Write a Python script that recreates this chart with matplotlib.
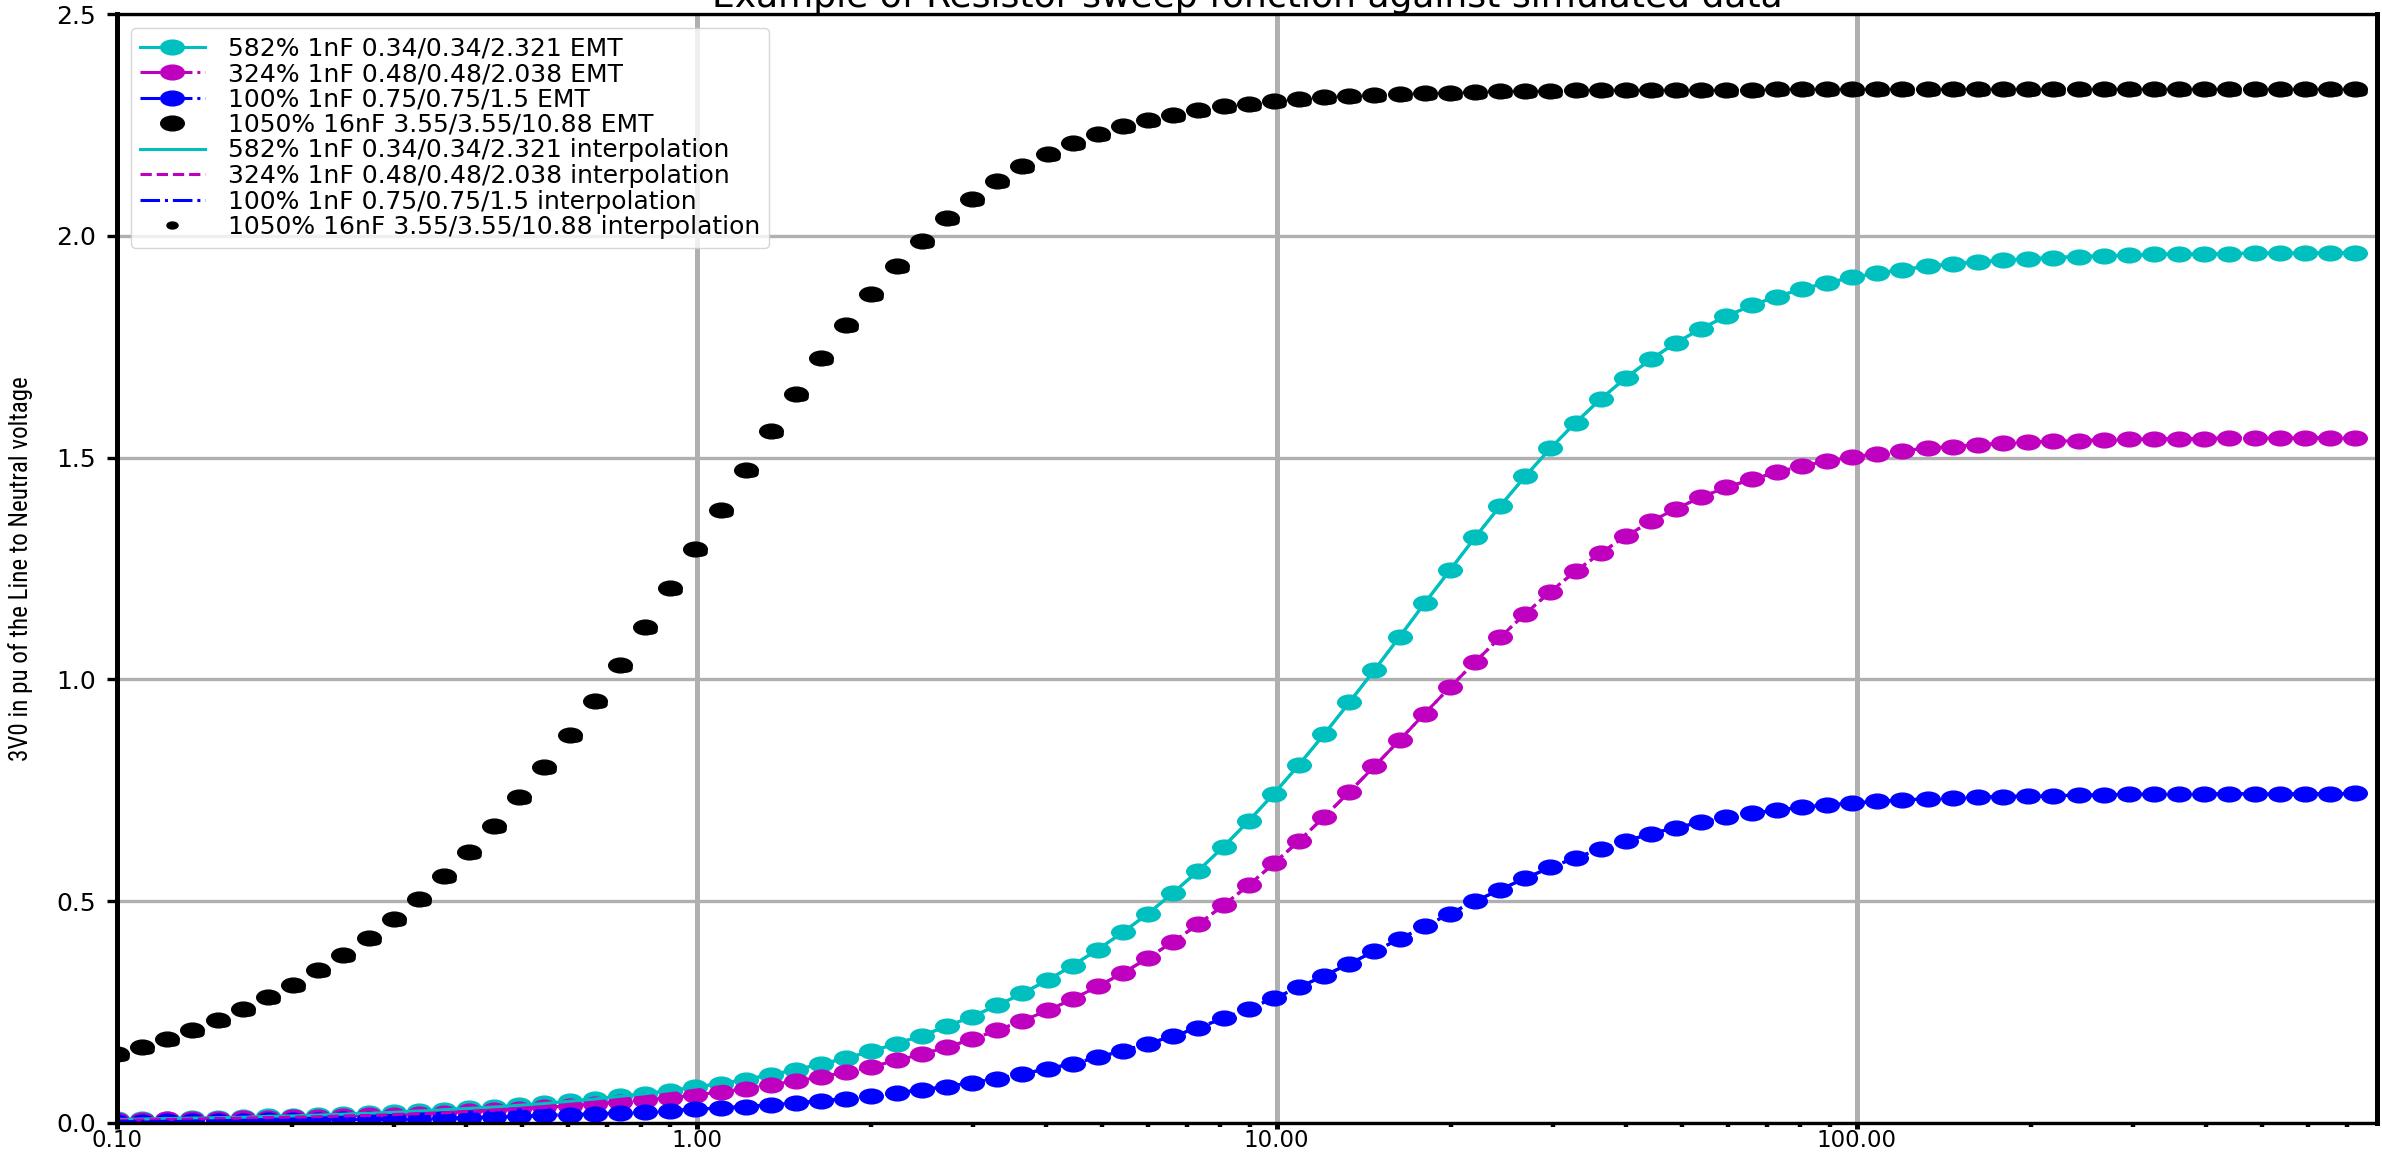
import matplotlib
matplotlib.use('Agg')
import matplotlib.pyplot as plt
from matplotlib.path import Path
from matplotlib.transforms import Affine2D, offset_copy
from matplotlib.ticker import FormatStrFormatter, NullFormatter

# Resistor values of the sweep
resistance = [0.1, 0.1105, 0.1221, 0.1349, 0.1491, 0.1648, 0.1821, 0.2012, 0.2223, 0.2457,
              0.2715, 0.3, 0.3315, 0.3663, 0.4048, 0.4473, 0.4942, 0.5461, 0.6035, 0.6669,
              0.7369, 0.8143, 0.8998, 0.9943, 1.099, 1.214, 1.342, 1.483, 1.638, 1.81,
              2, 2.211, 2.443, 2.699, 2.983, 3.296, 3.642, 4.025, 4.447, 4.914,
              5.43, 6.001, 6.631, 7.327, 8.097, 8.947, 9.887, 10.93, 12.07, 13.34,
              14.74, 16.29, 18, 19.89, 21.98, 24.29, 26.84, 29.66, 32.77, 36.21,
              40.02, 44.22, 48.86, 54, 59.67, 65.93, 72.86, 80.51, 88.96, 98.31,
              108.6, 120, 132.6, 146.6, 162, 179, 197.8, 218.5, 241.5, 266.9,
              294.9, 325.9, 360.1, 397.9, 439.7, 485.9, 536.9, 593.3, 655.6, 724.4]

# 3V0 (pu) for each case
v_582 = [0.008, 0.009, 0.010, 0.011, 0.012, 0.013, 0.015, 0.016, 0.018, 0.020,
         0.022, 0.024, 0.027, 0.030, 0.033, 0.036, 0.040, 0.044, 0.049, 0.054,
         0.060, 0.066, 0.073, 0.081, 0.089, 0.098, 0.109, 0.120, 0.133, 0.146,
         0.162, 0.179, 0.197, 0.218, 0.240, 0.265, 0.292, 0.322, 0.355, 0.391,
         0.430, 0.472, 0.519, 0.569, 0.623, 0.681, 0.742, 0.808, 0.876, 0.948,
         1.021, 1.096, 1.172, 1.246, 1.320, 1.391, 1.458, 1.521, 1.579, 1.632,
         1.680, 1.722, 1.759, 1.791, 1.819, 1.843, 1.863, 1.880, 1.894, 1.906,
         1.916, 1.924, 1.931, 1.937, 1.941, 1.945, 1.948, 1.951, 1.953, 1.955,
         1.956, 1.958, 1.959, 1.959, 1.960, 1.961, 1.961, 1.961, 1.962, 1.962]

v_324 = [0.006, 0.007, 0.008, 0.009, 0.010, 0.011, 0.012, 0.013, 0.014, 0.016,
         0.017, 0.019, 0.021, 0.023, 0.026, 0.029, 0.032, 0.035, 0.039, 0.043,
         0.047, 0.052, 0.057, 0.063, 0.070, 0.077, 0.086, 0.095, 0.104, 0.115,
         0.127, 0.141, 0.155, 0.171, 0.189, 0.209, 0.230, 0.254, 0.279, 0.308,
         0.338, 0.372, 0.409, 0.448, 0.491, 0.536, 0.585, 0.636, 0.690, 0.746,
         0.804, 0.863, 0.923, 0.982, 1.039, 1.095, 1.148, 1.198, 1.244, 1.285,
         1.323, 1.356, 1.385, 1.411, 1.433, 1.451, 1.467, 1.481, 1.492, 1.501,
         1.509, 1.516, 1.521, 1.525, 1.529, 1.532, 1.535, 1.537, 1.538, 1.540,
         1.541, 1.542, 1.543, 1.543, 1.544, 1.544, 1.544, 1.545, 1.545, 1.545]

v_100 = [0.003, 0.003, 0.004, 0.004, 0.005, 0.005, 0.006, 0.006, 0.007, 0.008,
         0.008, 0.009, 0.010, 0.011, 0.012, 0.014, 0.015, 0.017, 0.019, 0.020,
         0.023, 0.025, 0.028, 0.031, 0.034, 0.037, 0.041, 0.045, 0.050, 0.055,
         0.061, 0.068, 0.075, 0.082, 0.091, 0.100, 0.111, 0.122, 0.134, 0.148,
         0.163, 0.179, 0.196, 0.215, 0.236, 0.258, 0.281, 0.306, 0.332, 0.359,
         0.387, 0.415, 0.443, 0.472, 0.500, 0.526, 0.552, 0.576, 0.598, 0.618,
         0.636, 0.652, 0.666, 0.678, 0.689, 0.698, 0.705, 0.712, 0.717, 0.721,
         0.725, 0.728, 0.731, 0.733, 0.735, 0.736, 0.737, 0.738, 0.739, 0.740,
         0.741, 0.741, 0.741, 0.742, 0.742, 0.742, 0.742, 0.742, 0.742, 0.743]

v_1050 = [0.156, 0.172, 0.190, 0.210, 0.232, 0.256, 0.283, 0.312, 0.344, 0.379,
          0.418, 0.460, 0.506, 0.556, 0.611, 0.670, 0.734, 0.802, 0.875, 0.952,
          1.033, 1.117, 1.205, 1.293, 1.383, 1.472, 1.559, 1.643, 1.724, 1.799,
          1.869, 1.932, 1.989, 2.040, 2.084, 2.123, 2.157, 2.185, 2.209, 2.230,
          2.247, 2.261, 2.273, 2.283, 2.292, 2.298, 2.304, 2.309, 2.312, 2.316,
          2.318, 2.320, 2.322, 2.323, 2.325, 2.326, 2.326, 2.327, 2.328, 2.328,
          2.328, 2.329, 2.329, 2.329, 2.329, 2.329, 2.330, 2.330, 2.330, 2.330,
          2.330, 2.330, 2.330, 2.330, 2.330, 2.330, 2.330, 2.330, 2.330, 2.330,
          2.330, 2.330, 2.330, 2.330, 2.330, 2.330, 2.330, 2.330, 2.330, 2.330]

labels = ['582% 1nF 0.34/0.34/2.321', '324% 1nF 0.48/0.48/2.038',
          '100% 1nF 0.75/0.75/1.5', '1050% 16nF 3.55/3.55/10.88']

plt.rcParams['font.family'] = ['DejaVu Sans']
plt.rcParams['font.size'] = 17

fig = plt.figure(figsize=(23.82, 11.54), dpi=100)
ax = fig.add_axes([117 / 2382, 31 / 1154, 2260 / 2382, 1109 / 1154])

# wide elliptical dots
dot = Path.unit_circle().transformed(Affine2D().scale(1.6, 1.0))

# EMT results
ax.plot(resistance, v_582, '-', color='c', marker=dot, ms=17, lw=2.2, label=labels[0] + ' EMT')
ax.plot(resistance, v_324, '-.', color='m', marker=dot, ms=17, lw=2.2, label=labels[1] + ' EMT')
ax.plot(resistance, v_100, '-.', color='b', marker=dot, ms=17, lw=2.2, label=labels[2] + ' EMT')
ax.plot(resistance, v_1050, color='k', ls='none', marker=dot, ms=17, label=labels[3] + ' EMT')

# interpolation curves
ax.plot(resistance, v_582, '-', color='c', lw=2.2, label=labels[0] + ' interpolation')
ax.plot(resistance, v_324, '--', color='m', lw=2.2, label=labels[1] + ' interpolation')
ax.plot(resistance, v_100, '-.', color='b', lw=2.2, label=labels[2] + ' interpolation')
shifted = offset_copy(ax.transData, fig=fig, x=6, y=-3, units='dots')
ax.plot(resistance, v_1050, color='k', ls='none', marker=dot, ms=8,
        transform=shifted, label=labels[3] + ' interpolation')

ax.set_xscale('log')
ax.set_xlim(0.1, 790)
ax.set_ylim(0, 2.5)
ax.set_yticks([0.0, 0.5, 1.0, 1.5, 2.0, 2.5])
ax.xaxis.set_major_formatter(FormatStrFormatter('%.2f'))
ax.xaxis.set_minor_formatter(NullFormatter())
ax.yaxis.set_major_formatter(FormatStrFormatter('%.1f'))

ax.grid(axis='x', which='major', color='#b0b0b0', lw=3.6)
ax.grid(axis='y', which='major', color='#b0b0b0', lw=2.4)
ax.set_axisbelow(True)

for side in ['left', 'right']:
    ax.spines[side].set_linewidth(3.6)
for side in ['top', 'bottom']:
    ax.spines[side].set_linewidth(2.4)
ax.tick_params(axis='x', which='major', length=4.5, width=3.6, pad=0, labelsize=16.5)
ax.tick_params(axis='x', which='minor', length=3, width=3.2)
ax.tick_params(axis='y', which='major', length=7, width=2.4, pad=8, labelsize=18)

ax.set_ylabel('3V0 in pu of the Line to Neutral voltage',
              family=['Roboto Condensed', 'Open Sans Condensed', 'Archivo Narrow',
                      'PT Sans Narrow', 'DejaVu Sans'],
              fontsize=18)
ax.yaxis.set_label_coords(-0.037, 0.5)
ax.set_title('Example of Resistor sweep fonction against simulated data',
             fontsize=26, pad=3)

ax.legend(loc='upper left', fontsize=18, labelspacing=0.06, borderpad=0.35,
          handlelength=2.6, handletextpad=0.95, borderaxespad=0.55)

fig.savefig('out.png', dpi=100)
